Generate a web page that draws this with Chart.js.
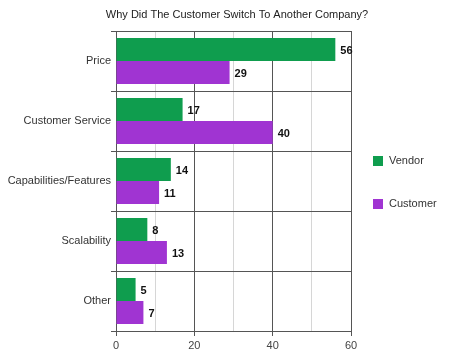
<!DOCTYPE html>
<html>
<head>
<meta charset="utf-8">
<script src="https://cdn.jsdelivr.net/npm/chart.js@4/dist/chart.umd.min.js"></script>
<style>
html,body{margin:0;padding:0;background:#fff;}
#wrap{position:relative;width:474px;height:357px;}
</style>
</head>
<body>
<div id="wrap"><canvas id="c" width="474" height="357"></canvas></div>
<script>
const categories = ["Price", "Customer Service", "Capabilities/Features", "Scalability", "Other"];
const vendorValues = [56, 17, 14, 8, 5];
const customerValues = [29, 40, 11, 13, 7];
const seriesNames = ["Vendor", "Customer"];
const xTickLabels = [0, 20, 40, 60];
const chartTitle = "Why Did The Customer Switch To Another Company?";

const GREEN = "#0f9d4e";
const PURPLE = "#a034d2";
const FONT = "'Liberation Sans', Arial, sans-serif";

const valueLabels = {
  id: "valueLabels",
  afterDatasetsDraw(chart) {
    const ctx = chart.ctx;
    ctx.save();
    ctx.font = "bold 11px " + FONT;
    ctx.fillStyle = "#111";
    ctx.textAlign = "left";
    ctx.textBaseline = "middle";
    chart.data.datasets.forEach((ds, i) => {
      chart.getDatasetMeta(i).data.forEach((bar, j) => {
        ctx.fillText(String(ds.data[j]), bar.x + 5, bar.y + 1);
      });
    });
    ctx.restore();
  }
};

const centeredTitle = {
  id: "centeredTitle",
  afterDraw(chart) {
    const ctx = chart.ctx;
    ctx.save();
    ctx.font = "11px " + FONT;
    ctx.fillStyle = "#222";
    ctx.textAlign = "center";
    ctx.textBaseline = "middle";
    ctx.fillText(chartTitle, chart.width / 2, 15);
    ctx.restore();
  }
};

const sideLegend = {
  id: "sideLegend",
  afterDraw(chart) {
    const ctx = chart.ctx;
    ctx.save();
    ctx.font = "11px " + FONT;
    ctx.textBaseline = "middle";
    ctx.textAlign = "left";
    const x0 = chart.chartArea.right + 22;
    const yStart = 161, step = 43;
    chart.data.datasets.forEach((ds, i) => {
      const y = yStart + i * step;
      ctx.fillStyle = ds.backgroundColor;
      ctx.fillRect(x0, y - 5, 10, 10);
      ctx.fillStyle = "#333";
      ctx.fillText(ds.label, x0 + 16, y);
    });
    ctx.restore();
  }
};

new Chart(document.getElementById("c"), {
  type: "bar",
  data: {
    labels: categories,
    datasets: [
      { label: seriesNames[0], data: vendorValues, backgroundColor: GREEN },
      { label: seriesNames[1], data: customerValues, backgroundColor: PURPLE }
    ]
  },
  options: {
    indexAxis: "y",
    responsive: false,
    animation: false,
    devicePixelRatio: 1,
    layout: { padding: { left: 0, right: 123, top: 31, bottom: 0 } },
    datasets: { bar: { categoryPercentage: 46 / 60, barPercentage: 1.0 } },
    plugins: {
      legend: { display: false },
      tooltip: { enabled: false },
      title: { display: false }
    },
    scales: {
      x: {
        min: 0, max: 60,
        ticks: {
          stepSize: 10,
          color: "#444",
          font: { family: FONT, size: 11 },
          padding: 3,
          maxRotation: 0,
          callback: (v) => xTickLabels.includes(v) ? String(v) : ""
        },
        grid: {
          color: (c) => (c.tick && c.tick.value % 20 === 0) ? "#555" : "#d6d6d6",
          tickColor: (c) => (c.tick && c.tick.value % 20 === 0) ? "#555" : "rgba(0,0,0,0)",
          tickLength: 5,
          lineWidth: 1
        },
        border: { color: "#555", width: 1 },
        afterFit: (s) => { s.height = 26; }
      },
      y: {
        ticks: {
          color: "#333",
          font: { family: FONT, size: 11 },
          padding: 0
        },
        grid: {
          offset: true,
          color: "#555",
          tickColor: "#555",
          tickLength: 5,
          lineWidth: 1
        },
        border: { color: "#555", width: 1 },
        afterFit: (s) => { s.width = 116; }
      }
    }
  },
  plugins: [valueLabels, centeredTitle, sideLegend]
});
</script>
</body>
</html>
